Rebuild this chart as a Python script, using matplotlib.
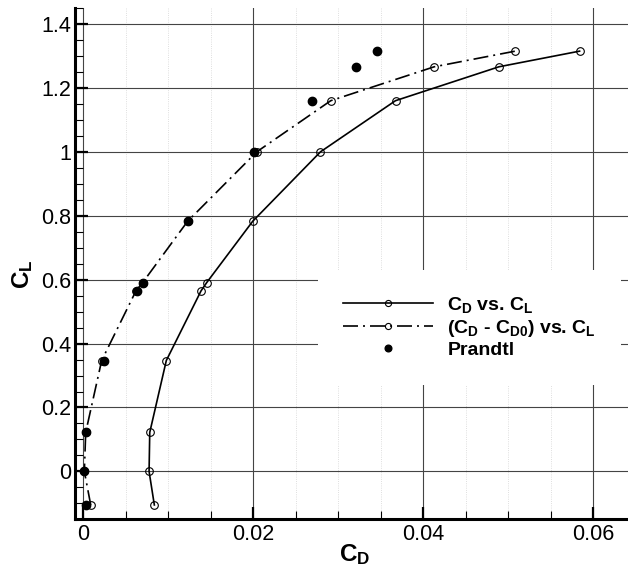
import numpy as np
import matplotlib
matplotlib.use("Agg")
import matplotlib.pyplot as plt
from matplotlib.ticker import MultipleLocator, FuncFormatter

plt.rcParams['font.family'] = 'Liberation Sans'
plt.rcParams['mathtext.fontset'] = 'custom'
plt.rcParams['mathtext.rm'] = 'Liberation Sans:bold'
plt.rcParams['mathtext.it'] = 'Liberation Sans:bold'
plt.rcParams['mathtext.bf'] = 'Liberation Sans:bold'

# data
cl = [-0.105, 0.0, 0.122, 0.347, 0.565, 0.591, 0.783, 1.0, 1.16, 1.266, 1.315]
cd = [0.00834, 0.00772, 0.0078, 0.00975, 0.01384, 0.01451, 0.01993, 0.0279, 0.03673, 0.0489, 0.0584]
cd_minus_cd0 = [0.00085, 0.0001, 0.00026, 0.00214, 0.00618, 0.00697, 0.01227, 0.0204, 0.02911, 0.04128, 0.05082]
prandtl = [0.0003, 0.0001, 0.00026, 0.00241, 0.00634, 0.00697, 0.01235, 0.02008, 0.02695, 0.0321, 0.03457]

fig = plt.figure(figsize=(6.28, 5.71), dpi=100)
ax = fig.add_axes([75/628, 1-518.7/571, 553/628, (518.7-8)/571])

ax.plot(cd, cl, '-', color='black', lw=1.2, marker='o', ms=5.5, mfc='none',
        mec='black', mew=0.8, label=r'$C_D$ vs. $C_L$', zorder=3)
ax.plot(cd_minus_cd0, cl, color='black', lw=1.2, ls=(0, (9, 3, 1.2, 3)), marker='o',
        ms=5.5, mfc='none', mec='black', mew=0.8,
        label=r'($C_D$ - $C_{D0}$) vs. $C_L$', zorder=3)
ax.plot(prandtl, cl, 'o', color='black', ms=6, ls='none', label='Prandtl', zorder=4)

ax.set_xlim(-0.001, 0.0641)
ax.set_ylim(-0.148, 1.45)

ax.xaxis.set_major_locator(MultipleLocator(0.02))
ax.xaxis.set_minor_locator(MultipleLocator(0.005))
ax.yaxis.set_major_locator(MultipleLocator(0.2))
ax.yaxis.set_minor_locator(MultipleLocator(0.05))
fmt = FuncFormatter(lambda v, p: '%g' % round(v, 6))
ax.xaxis.set_major_formatter(fmt)
ax.yaxis.set_major_formatter(fmt)

ax.grid(which='major', color='#444444', lw=0.8)
ax.grid(which='minor', axis='x', color='#d4d4d4', lw=0.6, ls=':')
ax.set_axisbelow(True)

for s in ['top', 'right']:
    ax.spines[s].set_visible(False)
for s in ['left', 'bottom']:
    ax.spines[s].set_linewidth(2.2)

ax.tick_params(which='major', direction='in', length=9, width=1.6, labelsize=15.5)
ax.tick_params(axis='y', which='major', pad=2.5)
ax.tick_params(axis='x', which='major', pad=4)
ax.tick_params(which='minor', direction='in', length=5.5, width=0.8)

ax.set_xlabel(r'$C_D$', fontsize=17.5)
ax.set_ylabel(r'$C_L$', fontsize=17.5)
ax.xaxis.set_label_coords(0.506, -0.045)
ax.yaxis.set_label_coords(-0.072, 0.478)

leg = ax.legend(loc='center left', bbox_to_anchor=(318/628, 1-327/571),
                bbox_transform=fig.transFigure, borderaxespad=0, borderpad=1.3,
                handlelength=4.6, handletextpad=0.75, labelspacing=0.15,
                markerscale=0.8, fancybox=False, framealpha=1,
                prop={'size': 14, 'weight': 'bold'})
leg.get_frame().set_edgecolor('none')
leg.get_frame().set_facecolor('white')

fig.savefig('out.png', dpi=100)
